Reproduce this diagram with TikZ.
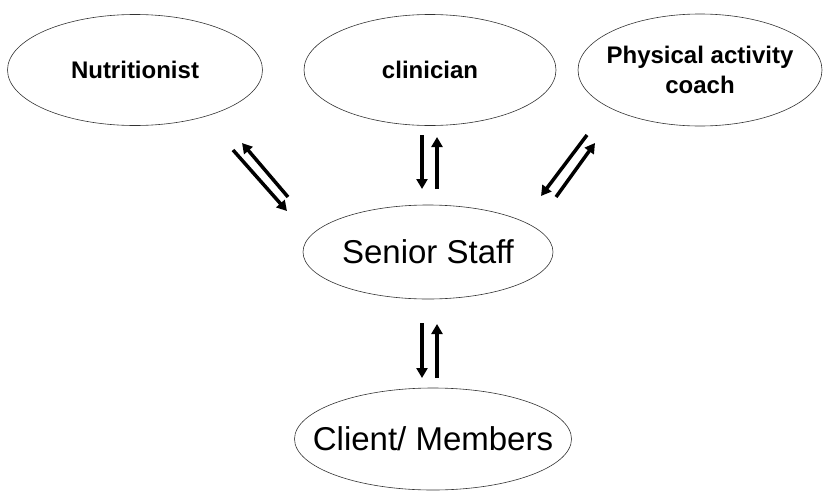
\documentclass[tikz,border=0pt]{standalone}
\usepackage{fontspec}
\setmainfont{Liberation Sans}
\usepackage{tikz}
\usetikzlibrary{shapes.geometric,arrows.meta}

\begin{document}
\begin{tikzpicture}[x=1pt,y=-1pt,
        role/.style={ellipse,draw=black!80,line width=0.6pt,inner ysep=0pt,inner xsep=-25pt,
            font=\fontsize{24}{30}\selectfont\bfseries,align=center},
        staff/.style={ellipse,draw=black!80,line width=0.6pt,inner ysep=0pt,inner xsep=-25pt,
            font=\fontsize{33}{38}\selectfont},
        flow/.style={line width=3.5pt,-{Triangle[length=10pt,width=11pt]}}]
        \useasboundingbox (0,0) rectangle (824,490);

        % 上面三个角色
        \node[role,minimum width=255pt,minimum height=111pt] (Nutri) at (135,70) {Nutritionist};
        \node[role,minimum width=252pt,minimum height=111pt] (Clin) at (430,70) {clinician};
        \node[role,minimum width=244pt,minimum height=112pt] (Coach) at (700,70) {Physical activity\\coach};

        % 中间和下面
        \node[staff,minimum width=250pt,minimum height=94pt] (Senior) at (428,252) {Senior Staff};
        \node[staff,minimum width=277pt,minimum height=102pt] (Client) at (433,439) {Client/ Members};

        % 箭头端点
        \coordinate (N_1) at (233,150);
        \coordinate (N_2) at (287,211);
        \coordinate (N_3) at (288,197);
        \coordinate (N_4) at (242,143);
        \coordinate (C_1) at (422,135);
        \coordinate (C_2) at (422,189);
        \coordinate (C_3) at (437,189);
        \coordinate (C_4) at (437,137);
        \coordinate (P_1) at (587,135);
        \coordinate (P_2) at (541,196);
        \coordinate (P_3) at (556,197);
        \coordinate (P_4) at (595,143);
        \coordinate (S_1) at (422,323);
        \coordinate (S_2) at (422,378);
        \coordinate (S_3) at (437,378);
        \coordinate (S_4) at (437,324);

        % 双向箭头
        \draw[flow] (N_1) -- (N_2);
        \draw[flow] (N_3) -- (N_4);
        \draw[flow] (C_1) -- (C_2);
        \draw[flow] (C_3) -- (C_4);
        \draw[flow] (P_1) -- (P_2);
        \draw[flow] (P_3) -- (P_4);
        \draw[flow] (S_1) -- (S_2);
        \draw[flow] (S_3) -- (S_4);
\end{tikzpicture}
\end{document}
